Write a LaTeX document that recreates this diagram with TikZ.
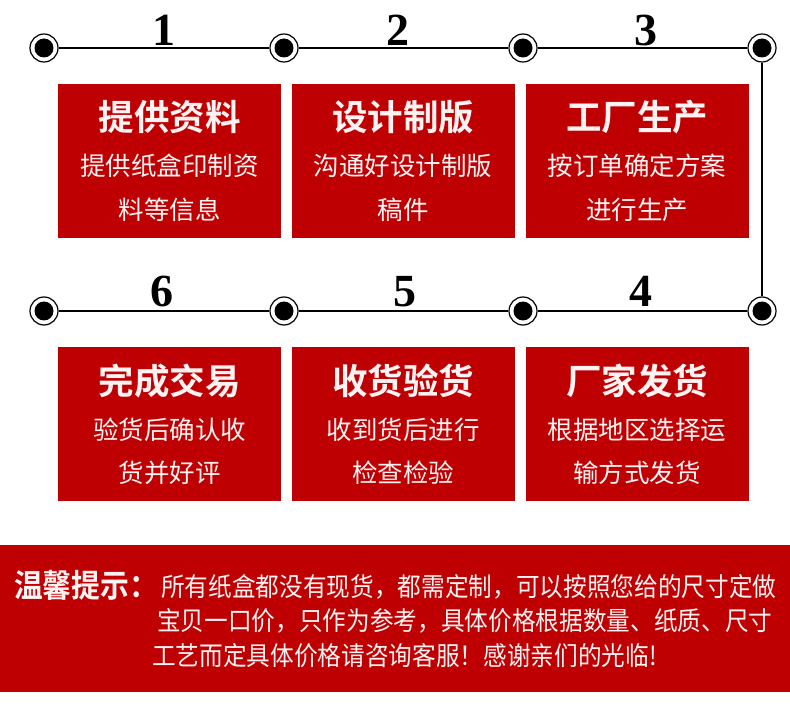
\documentclass[tikz,border=0pt]{standalone}
\usepackage{fontspec}
\newfontfamily\cjk[BoldFont=* Bold]{Noto Sans CJK SC}
\newfontfamily\cjkn[FakeStretch=0.91]{Noto Sans CJK SC}
\newfontfamily\cjkt[FakeStretch=0.9,BoldFont=* Bold]{Noto Sans CJK SC}
\newfontfamily\numfont{Liberation Serif}
\definecolor{boxred}{RGB}{190,0,2}
\definecolor{pale}{RGB}{255,242,242}
\tikzset{
  dot/.style={circle,draw=black,line width=1.2pt,fill=white,minimum size=28pt,inner sep=0pt,
    path picture={\fill[black] (path picture bounding box.center) circle[radius=9.5pt];}},
  stepnum/.style={font=\numfont\bfseries\fontsize{46}{50}\selectfont,anchor=base,inner sep=0pt},
  card/.style={fill=boxred,minimum width=223pt,minimum height=154pt,inner sep=0pt,anchor=north west},
  cardtitle/.style={font=\cjk\bfseries\fontsize{35.5}{40}\selectfont,text=pale,inner sep=0pt},
  cardtext/.style={font=\cjk\fontsize{25.5}{30}\selectfont,text=pale,inner sep=0pt},
  link/.style={line width=1.3pt,black},
  noteline/.style={font=\cjkn\fontsize{26}{30}\selectfont,text=pale,inner sep=0pt,anchor=west},
  notetitle/.style={font=\cjkt\bfseries\fontsize{32}{36}\selectfont,text=pale,inner sep=0pt,anchor=west}
}
\begin{document}
\begin{tikzpicture}[x=1pt,y=-1pt]
\useasboundingbox[fill=white] (0,0) rectangle (790,727);
% top row dots
\node[dot] (c1) at (44,48) {};
\node[dot] (c2) at (284,48) {};
\node[dot] (c3) at (523,48) {};
\node[dot] (c4) at (762,48) {};
% bottom row dots
\node[dot] (c5) at (44,311) {};
\node[dot] (c6) at (284,311) {};
\node[dot] (c7) at (523,311) {};
\node[dot] (c8) at (762,311) {};
\draw[link] (c1) -- (c2);
\draw[link] (c2) -- (c3);
\draw[link] (c3) -- (c4);
\draw[link] (c4) -- (c8);
\draw[link] (c8) -- (c7);
\draw[link] (c7) -- (c6);
\draw[link] (c6) -- (c5);
% numbers
\node[stepnum] (n1) at (164,46) {1};
\node[stepnum] (n2) at (398,46) {2};
\node[stepnum] (n3) at (646,46) {3};
\node[stepnum] (n6) at (162,307) {6};
\node[stepnum] (n5) at (405,307) {5};
\node[stepnum] (n4) at (641,307) {4};
% cards row 1
\node[card] (b1) at (58,84) {};
\node[card] (b2) at (292,84) {};
\node[card] (b3) at (526,84) {};
\node[cardtitle] (t1) at (169.5,117) {提供资料};
\node[cardtext] (s1a) at (169.5,166) {提供纸盒印制资};
\node[cardtext] (s1b) at (169.5,210) {料等信息};
\node[cardtitle] (t2) at (403,117) {设计制版};
\node[cardtext] (s2a) at (403,166) {沟通好设计制版};
\node[cardtext] (s2b) at (403,210) {稿件};
\node[cardtitle] (t3) at (637,117) {工厂生产};
\node[cardtext] (s3a) at (637,166) {按订单确定方案};
\node[cardtext] (s3b) at (637,210) {进行生产};
% cards row 2
\node[card] (b6) at (58,347) {};
\node[card] (b5) at (292,347) {};
\node[card] (b4) at (526,347) {};
\node[cardtitle] (t6) at (169.5,381) {完成交易};
\node[cardtext] (s6a) at (169.5,430) {验货后确认收};
\node[cardtext] (s6b) at (169.5,473) {货并好评};
\node[cardtitle] (t5) at (403,381) {收货验货};
\node[cardtext] (s5a) at (403,430) {收到货后进行};
\node[cardtext] (s5b) at (403,473) {检查检验};
\node[cardtitle] (t4) at (637,381) {厂家发货};
\node[cardtext] (s4a) at (637,430) {根据地区选择运};
\node[cardtext] (s4b) at (637,473) {输方式发货};
% bottom band
\fill[boxred] (0,545) rectangle (790,692);
\node[notetitle] (nt) at (14,585) {温馨提示：};
\node[noteline] (l1) at (161,587) {所有纸盒都没有现货，都需定制，可以按照您给的尺寸定做};
\node[noteline] (l2) at (157,621) {宝贝一口价，只作为参考，具体价格根据数量、纸质、尺寸};
\node[noteline] (l3) at (152,656) {工艺而定具体价格请咨询客服！感谢亲们的光临!};
\end{tikzpicture}
\end{document}
